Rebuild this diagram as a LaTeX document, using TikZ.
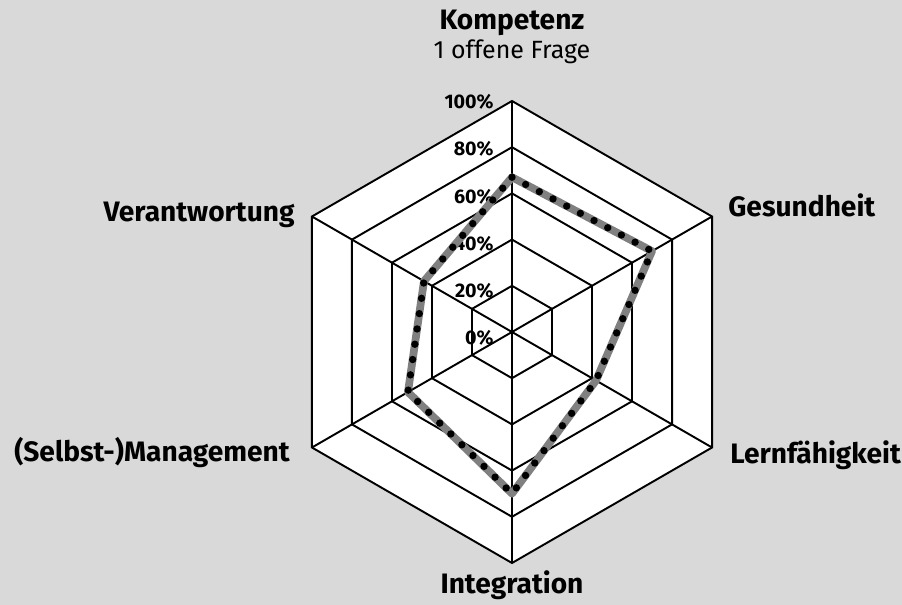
\documentclass[tikz,border=0pt]{standalone}
\usepackage{fontspec}
\setmainfont{Fira Sans}
\usepackage{tikz}
\usetikzlibrary{positioning, calc}

\definecolor{bgfill}{RGB}{217,217,217}
\definecolor{linegray}{RGB}{128,128,128}

\begin{document}
\begin{tikzpicture}[
    grid/.style={draw, line width=1.1pt, line join=miter},
    axislabel/.style={font=\bfseries\fontsize{16}{19}\selectfont, inner sep=0pt},
    pct/.style={anchor=east, font=\bfseries\fontsize{11.2}{13}\selectfont, inner sep=0pt},
    datagray/.style={draw=linegray, line width=4.4pt, line join=round},
    datadots/.style={draw=black, line width=4.2pt, line cap=round,
      dash pattern=on 0pt off 8.8pt},
  ]
  %% --- Canvas ---
  \fill[bgfill] (-10.24, -5.46) rectangle (7.80, 6.64);
  \useasboundingbox (-10.24, -5.46) rectangle (7.80, 6.64);

  %% --- Axis end points (100%) ---
  \coordinate (C) at (0, 0);
  \coordinate (K) at (90:4.62);
  \coordinate (G) at (30:4.62);
  \coordinate (L) at (-30:4.62);
  \coordinate (I) at (-90:4.62);
  \coordinate (M) at (-150:4.62);
  \coordinate (V) at (150:4.62);

  %% --- Rings ---
  \filldraw[grid, fill=white] (K) -- (G) -- (L) -- (I) -- (M) -- (V) -- cycle;
  \draw[grid] (90:3.696) -- (30:3.696) -- (-30:3.696) -- (-90:3.696) -- (-150:3.696) -- (150:3.696) -- cycle;
  \draw[grid] (90:2.772) -- (30:2.772) -- (-30:2.772) -- (-90:2.772) -- (-150:2.772) -- (150:2.772) -- cycle;
  \draw[grid] (90:1.848) -- (30:1.848) -- (-30:1.848) -- (-90:1.848) -- (-150:1.848) -- (150:1.848) -- cycle;
  \draw[grid] (90:0.924) -- (30:0.924) -- (-30:0.924) -- (-90:0.924) -- (-150:0.924) -- (150:0.924) -- cycle;

  %% --- Spokes ---
  \draw[grid] (C) -- (K);
  \draw[grid] (C) -- (G);
  \draw[grid] (C) -- (L);
  \draw[grid] (C) -- (I);
  \draw[grid] (C) -- (M);
  \draw[grid] (C) -- (V);

  %% --- Scale labels ---
  \node[pct] (p0) at (-0.36, -0.11) {0\%};
  \node[pct] (p20) at (-0.36, 0.82) {20\%};
  \node[pct] (p40) at (-0.36, 1.77) {40\%};
  \node[pct] (p60) at (-0.36, 2.70) {60\%};
  \node[pct] (p80) at (-0.36, 3.67) {80\%};
  \node[pct] (p100) at (-0.36, 4.60) {100\%};

  %% --- Axis labels ---
  \node[axislabel] (kompetenz) at (0, 6.18) {Kompetenz};
  \node[font=\fontsize{14.2}{17}\selectfont, inner sep=0pt] (frage) at (0, 5.60) {1 offene Frage};
  \node[axislabel, anchor=west] (gesundheit) at (4.32, 2.54) {Gesundheit};
  \node[axislabel, anchor=west] (lernen) at (4.36, -2.46) {Lernfähigkeit};
  \node[axislabel] (integration) at (0, -5.06) {Integration};
  \node[axislabel, anchor=east] (management) at (-4.44, -2.42) {(Selbst-)Management};
  \node[axislabel, anchor=east] (verantwortung) at (-4.34, 2.34) {Verantwortung};

  %% --- Data values ---
  \coordinate (dK) at ($(C)!0.67!(K)$);
  \coordinate (dG) at ($(C)!0.70!(G)$);
  \coordinate (dL) at ($(C)!0.42!(L)$);
  \coordinate (dI) at ($(C)!0.70!(I)$);
  \coordinate (dM) at ($(C)!0.52!(M)$);
  \coordinate (dV) at ($(C)!0.44!(V)$);

  \draw[datagray] (dK) -- (dG) -- (dL) -- (dI) -- (dM) -- (dV) -- cycle;
  \draw[datadots] (dK) -- (dG) -- (dL) -- (dI) -- (dM) -- (dV) -- cycle;
\end{tikzpicture}
\end{document}
